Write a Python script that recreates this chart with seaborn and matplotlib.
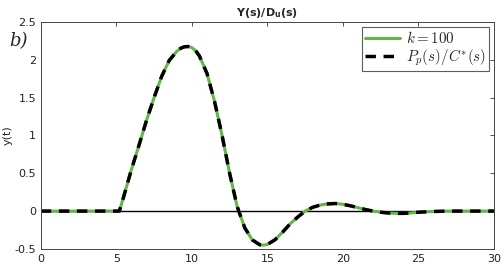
import matplotlib
matplotlib.use("Agg")
import matplotlib.pyplot as plt
import seaborn as sns
import pandas as pd

t = [0, 1, 2, 3, 4, 5, 5.2, 5.5, 6.0, 6.5, 7.0, 7.5, 8.0, 8.5, 9.0, 9.25, 9.5,
     9.75, 10.0, 10.25, 10.5, 11.0, 11.5, 12.0, 12.5, 13.0, 13.5, 14.0, 14.5,
     14.75, 15.0, 15.5, 16.0, 16.5, 17.0, 17.5, 18.0, 18.5, 19.0, 19.5, 20.0,
     20.5, 21.0, 21.5, 22.0, 22.5, 23.0, 23.5, 24.0, 24.5, 25.0, 26.0, 27.0,
     28.0, 30.0]
y_k100 = [0, 0, 0, 0, 0, 0, 0, 0.2, 0.55, 0.87, 1.2, 1.5, 1.78, 1.99, 2.11,
          2.15, 2.17, 2.175, 2.16, 2.12, 2.05, 1.82, 1.45, 1.0, 0.5, 0.06,
          -0.22, -0.38, -0.445, -0.45, -0.44, -0.38, -0.28, -0.17, -0.08, 0.0,
          0.05, 0.08, 0.095, 0.1, 0.09, 0.07, 0.045, 0.02, 0.0, -0.015, -0.025,
          -0.03, -0.03, -0.025, -0.015, -0.005, 0.0, 0.0, 0.0]
y_ppc = list(y_k100)

labels = [r"$k=100$", r"$P_p(s)/C^{*}(s)$"]

sns.set_style("white")
plt.rcParams['font.family'] = ['DejaVu Sans']
plt.rcParams['mathtext.fontset'] = 'cm'

fig = plt.figure(figsize=(5.04, 2.70), dpi=100)
ax = fig.add_axes([0.081, 0.078, 0.899, 0.841])

df1 = pd.DataFrame({"t": t, "y": y_k100})
df2 = pd.DataFrame({"t": t, "y": y_ppc})
sns.lineplot(data=df1, x="t", y="y", ax=ax, color="#62b64a", lw=2.2, label=labels[0])
sns.lineplot(data=df2, x="t", y="y", ax=ax, color="black", lw=2.5,
             linestyle=(0, (3.0, 2.2)), label=labels[1])
ax.axhline(0, color="black", lw=1.0, zorder=1)

ax.set_xlim(0, 30)
ax.set_ylim(-0.5, 2.5)
ax.set_xticks([0, 5, 10, 15, 20, 25, 30])
ax.set_yticks([-0.5, 0, 0.5, 1, 1.5, 2, 2.5])
ax.set_yticklabels(["-0.5", "0", "0.5", "1", "1.5", "2", "2.5"])
ax.tick_params(direction="in", length=3, labelsize=8, top=True, right=True,
               colors="#333333", labelcolor="#222222", width=0.6)
for s in ax.spines.values():
    s.set_color("#444444")
    s.set_linewidth(0.7)
ax.set_xlabel("")
ax.set_ylabel("y(t)", fontsize=8)
ax.yaxis.set_label_coords(-0.062, 0.5)
ax.set_title(r"Y(s)/D$_\mathbf{u}$(s)", fontsize=8, fontweight="bold", pad=4,
             math_fontfamily="dejavusans")

leg = ax.legend(loc="upper right", fontsize=10.8, frameon=True, fancybox=False,
                handlelength=2.3, borderpad=0.2, labelspacing=0.08,
                handletextpad=0.4, borderaxespad=0.35)
leg.get_frame().set_edgecolor("#333333")
leg.get_frame().set_linewidth(0.8)

fig.text(0.018, 0.83, "b)", fontsize=13, style="italic", family="serif")

fig.savefig("out.png", dpi=100)
